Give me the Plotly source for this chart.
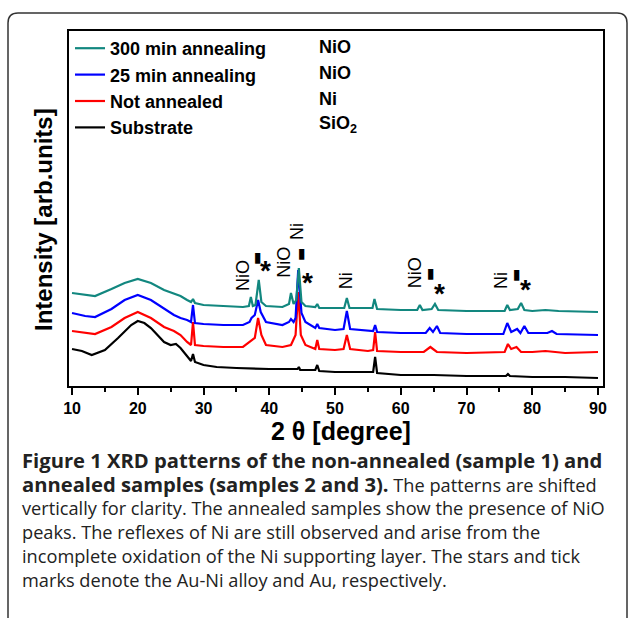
import plotly.graph_objects as go

# ---------------- data (2theta in degrees, intensity in arb. units) ----------------
sub_x = [10,11.5,13,15,17,19,20,21,22,23, 24,25,25.8,26.5,27.5,28.1,28.4,28.7,30,32,
         35,40,44.3,44.5,44.7,47,47.3,47.6,50,55.8, 56.1,56.4,60,65,70,76,76.3,76.6,80,85, 90]
sub_y = [37,35,31,36,48,61,65,63,58,51, 44,41,42,38,30,25,32,24,21,19,
         18,17,17,19,16,16,21,15,14,14, 29,13,11,11,10,10,12,10,9,9, 8]

na_x = [10,12,13.5,16,18,20,22,24,25.5,26.5, 27.5,28.1,28.4,28.7,30,33,36,37.8,38.3,38.8,
        39.5,42,43.3,44.0,44.4,44.8,45.5,47,47.3,47.6, 50,51.3,51.8,52.3,55,55.8,56.1,56.4,60,63.5,
        64.5,65.5,70,75.8,76.3,76.8,77.6,78.3,80,82, 85,90]
na_y = [55,53,52,59,68,74,68,59,55,51, 44,41,64,41,40,39,39,48,68,51,
        41,39,41,51,94,51,41,37,46,37, 36,37,51,37,35,36,54,35,34,34,
        39,34,33,34,42,37,39,34,34,35, 33,34]

a25_x = [10,12,13.5,16,18,20,22,24,25.5,26.5, 27.5,28.1,28.4,28.7,30,33,36,37.0,37.3,37.8,
         38.3,38.7,39.5,42,43.0,43.3,43.7,44.0,44.4,44.9, 45.5,47,47.3,47.6,50,51.3,51.8,52.3,55,55.8,
         56.1,56.4,60,63.8,64.4,64.9,65.5,66,70,75.6, 76.2,76.8,77.7,78.2,78.8,79.4,82.3,83,83.7,90]
a25_y = [73,70,69,77,86,91,86,77,71,68, 66,64,81,63,62,61,61,64,68,71,
         86,74,64,61,64,67,64,68,116,73, 64,58,62,58,56,57,75,57,55,55,
         61,54,53,53,58,54,60,53,52,52, 63,54,57,53,60,53,53,55,52,51]

a300_x = [10,12,13.5,16,18,20,22,24,25.5,26.5, 27.5,28.1,28.4,28.7,30,33,36,36.9,37.2,37.5,
          37.9,38.4,38.8,39.5,42,43.0,43.3,43.7,44.1,44.5, 44.9,45.5,47,47.3,47.6,50,51.4,51.8,52.2,55,
          55.7,56.0,56.4,60,62.5,62.9,63.3,64.7,65.2,65.7, 70,75.8,76.2,76.6,77.8,78.3,78.8,80,82,84, 90]
a300_y = [93,91,90,97,103,107,103,96,92,90, 86,84,87,83,81,80,79,80,89,80,
          81,106,84,80,79,82,93,82,86,118, 84,80,79,82,78,78,78,88,78,78,
          78,87,77,76,76,81,76,77,82,76, 75,75,81,76,77,83,76,75,76,75, 74]

series_names = ["Substrate", "Not annealed", "25 min annealing", "300 min annealing"]
series_colors = ["#000000", "#ff0000", "#0000ff", "#12877f"]
legend_ranks = [4, 3, 2, 1]
phase_labels = ["NiO", "NiO", "Ni", "SiO<sub>2</sub>"]

# peak labels: text, 2theta, intensity
peak_text = ["NiO", "▮", "*", "NiO", "Ni", "▮", "*", "Ni", "NiO", "▮", "*", "Ni", "▮", "*"]
peak_x    = [36.0, 38.3, 39.4, 42.2, 44.2, 45.0, 45.75, 51.7, 62.2, 64.6, 65.95, 75.25, 77.7, 78.9]
peak_y    = [111, 129, 116, 124, 155, 133, 104, 105, 113, 113, 93, 105, 112, 97]

x_ticks = [10, 20, 30, 40, 50, 60, 70, 80, 90]

caption_lines = [
    "<span style='font-size:20.2px'><b>Figure 1 XRD patterns of the non-annealed (sample 1) and</b></span>",
    "<span style='font-size:20.2px'><b>annealed samples (samples 2 and 3).</b></span> The patterns are shifted",
    "vertically for clarity. The annealed samples show the presence of NiO",
    "peaks. The reflexes of Ni are still observed and arise from the",
    "incomplete oxidation of the Ni supporting layer. The stars and tick",
    "marks denote the Au-Ni alloy and Au, respectively.",
]

# ---------------- figure ----------------
W, H = 629, 618
L, R, T, B = 69, 603, 31, 386   # plot area in pixels


def px(xp):
    return (xp - L) / (R - L)


def py(yp):
    return (B - yp) / (B - T)


fig = go.Figure()
xs = [sub_x, na_x, a25_x, a300_x]
ys = [sub_y, na_y, a25_y, a300_y]
for i in range(4):
    fig.add_trace(go.Scatter(
        x=xs[i], y=ys[i], mode="lines", name=series_names[i],
        legendrank=legend_ranks[i],
        line=dict(color=series_colors[i], width=2.2),
    ))

ann = []
for t, x, y in zip(peak_text, peak_x, peak_y):
    if t == "*":
        ann.append(dict(x=x, y=y, xref="x", yref="y", text=t, showarrow=False,
                        font=dict(family="Liberation Sans", size=28, color="black", weight="bold")))
    elif t == "▮":
        ann.append(dict(x=x, y=y, xref="x", yref="y", text=t, showarrow=False,
                        font=dict(family="DejaVu Sans", size=14, color="black")))
    else:
        ann.append(dict(x=x, y=y, xref="x", yref="y", text=t, showarrow=False, textangle=-90,
                        font=dict(family="Liberation Sans", size=18, color="black")))

# phase labels next to legend
for i, t in enumerate(phase_labels):
    ann.append(dict(x=px(317), y=py(47 + 25.8 * i), xref="paper", yref="paper", text=t,
                    showarrow=False, xanchor="left", yanchor="middle",
                    font=dict(family="Liberation Sans", size=18, color="black", weight="bold")))

# y axis title
ann.append(dict(x=px(44), y=py(220), xref="paper", yref="paper", text="Intensity [arb.units]",
                textangle=-90, showarrow=False, xanchor="center", yanchor="middle",
                font=dict(family="Liberation Sans", size=24, color="black", weight="bold")))
# x axis title
ann.append(dict(x=px(341), y=py(431), xref="paper", yref="paper", text="2 θ [degree]",
                showarrow=False, xanchor="center", yanchor="middle",
                font=dict(family="Liberation Sans", size=25, color="black", weight="bold")))

# caption
for i, line in enumerate(caption_lines):
    ann.append(dict(x=px(20), y=py(460 + 23.9 * i), xref="paper", yref="paper", text=line,
                    showarrow=False, xanchor="left", yanchor="middle",
                    font=dict(family="Open Sans", size=18.2, color="#222222")))

# outer rounded frame
r = 10
fl, ft, fr, fb = 8, 13, 627, 625
path = (f"M {px(fl)},{py(fb)} L {px(fl)},{py(ft + r)} Q {px(fl)},{py(ft)} {px(fl + r)},{py(ft)} "
        f"L {px(fr - r)},{py(ft)} Q {px(fr)},{py(ft)} {px(fr)},{py(ft + r)} L {px(fr)},{py(fb)}")
shapes = [dict(type="path", path=path, xref="paper", yref="paper",
               line=dict(color="#333333", width=1.5), layer="below")]

fig.update_layout(
    width=W, height=H,
    margin=dict(l=L, r=W - R, t=T, b=H - B, pad=0),
    paper_bgcolor="white", plot_bgcolor="white",
    showlegend=True,
    legend=dict(x=px(70), y=py(30), xanchor="left", yanchor="top",
                traceorder="normal",
                bgcolor="rgba(0,0,0,0)",
                font=dict(family="Liberation Sans", size=18, color="black", weight="bold")),
    annotations=ann,
    shapes=shapes,
    xaxis=dict(range=[9.54, 90.76], tickvals=x_ticks, ticks="outside", ticklen=7, tickwidth=1.5,
               tickcolor="black", showline=True, linecolor="black", linewidth=2, mirror=True,
               showgrid=False, zeroline=False,
               minor=dict(dtick=5, ticks="outside", ticklen=4, tickwidth=1.5, tickcolor="black"),
               tickfont=dict(family="Liberation Sans", size=16, color="black", weight="bold")),
    yaxis=dict(range=[0, 355], showticklabels=False, ticks="", showline=True, linecolor="black",
               linewidth=2, mirror=True, showgrid=False, zeroline=False),
)

fig.write_html("out.html")
